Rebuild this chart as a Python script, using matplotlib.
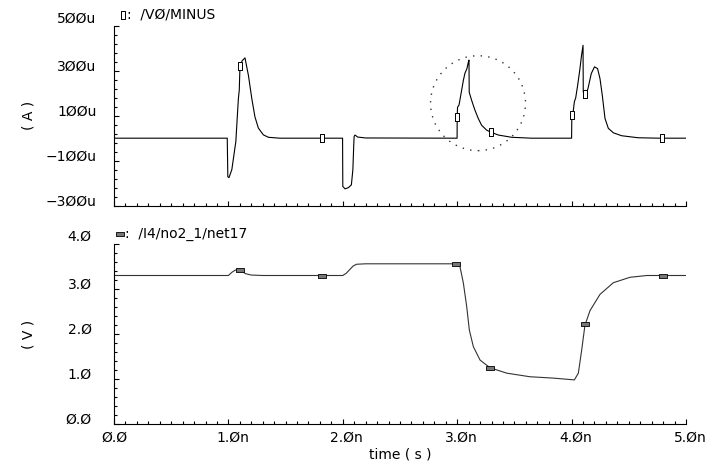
import numpy as np
import matplotlib
matplotlib.use("Agg")
import matplotlib.pyplot as plt
from matplotlib.ticker import FixedLocator, MultipleLocator
from matplotlib.patches import Ellipse
from matplotlib.transforms import ScaledTranslation

# ---------------- data ----------------
# top trace: current /V0/MINUS (uA) vs time (ns)
t_top = [0.0, 0.99, 0.995, 1.005, 1.03, 1.065, 1.087, 1.095, 1.101, 1.12, 1.145, 1.175, 1.205,
         1.232, 1.262, 1.305, 1.35, 1.45,
         1.998, 2.0, 2.02, 2.05, 2.075, 2.088, 2.095, 2.099, 2.107, 2.13, 2.2,
         2.999, 3.0, 3.003, 3.016, 3.039, 3.054, 3.068, 3.085, 3.097, 3.103, 3.105, 3.126,
         3.155, 3.184, 3.213, 3.257, 3.293, 3.36, 3.476, 3.65,
         4.0, 4.002, 4.012, 4.024, 4.036, 4.053, 4.073, 4.087, 4.100, 4.102, 4.114, 4.125,
         4.143, 4.172, 4.2, 4.227, 4.248, 4.268, 4.292, 4.321, 4.365, 4.437, 4.58, 4.76, 5.0]
i_top = [0, 0, -172, -176, -140, -15, 175, 214, 318, 345, 358, 280, 175,
         95, 45, 15, 4, 0,
         0, -215, -226, -220, -208, -140, -40, 8, 14, 5, 1,
         0, 95, 138, 148, 214, 258, 290, 310, 338, 348, 205, 169,
         125, 88, 58, 36, 27, 14, 4, 0,
         0, 103, 110, 162, 180, 236, 310, 370, 414, 206, 192, 195,
         221, 288, 318, 310, 266, 192, 88, 44, 24, 11, 2, 0, 0]

# bottom trace: voltage /I4/no2_1/net17 (V) vs time (ns)
t_bot = [0.0, 1.0, 1.03, 1.06, 1.09, 1.12, 1.15, 1.2, 1.3,
         2.0, 2.03, 2.06, 2.09, 2.12, 2.2,
         2.99, 3.024, 3.054, 3.083, 3.106, 3.141, 3.2, 3.287, 3.433, 3.636, 3.84, 4.024,
         4.059, 4.088, 4.117, 4.161, 4.248, 4.365, 4.51, 4.657, 5.0]
v_bot = [3.30, 3.30, 3.37, 3.42, 3.43, 3.39, 3.34, 3.31, 3.30,
         3.30, 3.35, 3.43, 3.51, 3.55, 3.56,
         3.56, 3.50, 3.13, 2.61, 2.09, 1.72, 1.42, 1.25, 1.13, 1.05, 1.02, 0.98,
         1.13, 1.64, 2.20, 2.52, 2.88, 3.14, 3.26, 3.30, 3.30]

# waveform markers
mk_top_t = [1.10, 1.815, 3.0, 3.293, 4.005, 4.12, 4.79]
mk_top_i = [322, 0, 95, 27, 103, 195, 0]
mk_bot_t = [1.10, 1.815, 2.99, 3.29, 4.12, 4.80]
mk_bot_v = [3.42, 3.30, 3.56, 1.25, 2.22, 3.30]

# ticks / labels
x_ticks = [0, 1, 2, 3, 4, 5]
x_labels = ['Ø.Ø', '1.Øn', '2.Øn', '3.Øn', '4.Øn', '5.Øn']
top_yticks = [-300, -100, 100, 300, 500]
top_ylabels = ['−3ØØu', '−1ØØu', '1ØØu', '3ØØu', '5ØØu']
bot_yticks = [0, 1, 2, 3, 4]
bot_ylabels = ['Ø.Ø', '1.Ø', '2.Ø', '3.Ø', '4.Ø']
top_title = '/VØ/MINUS'
bot_title = '/I4/no2_1/net17'

# ---------------- figure ----------------
plt.rcParams['font.family'] = ['DejaVu Sans']
FS = 10
W, H = 711, 466
fig = plt.figure(figsize=(W / 100, H / 100), dpi=100)
ax1 = fig.add_axes([114 / W, 1 - 205.5 / H, 572 / W, 179.5 / H])
ax2 = fig.add_axes([114 / W, 1 - 424 / H, 572 / W, 180 / H])

for ax in (ax1, ax2):
    for s in ('top', 'right'):
        ax.spines[s].set_visible(False)
    for s in ('left', 'bottom'):
        ax.spines[s].set_linewidth(0.8)
    ax.set_xlim(0, 5)
    ax.xaxis.set_major_locator(FixedLocator(x_ticks))
    ax.xaxis.set_minor_locator(MultipleLocator(0.1))
    ax.tick_params(which='both', direction='in', top=False, right=False, width=0.8,
                   labelsize=FS)
    ax.tick_params(which='major', length=3.8)
    ax.tick_params(which='minor', length=2.0)

# top axes
ax1.plot(t_top, i_top, color='black', lw=0.8)
ax1.plot(mk_top_t, mk_top_i, ls='none',
         marker=[(-0.5, -1), (0.5, -1), (0.5, 1), (-0.5, 1), (-0.5, -1)],
         ms=6, mfc='white', mec='black', mew=0.7)
ax1.set_ylim(-300, 500)
ax1.yaxis.set_major_locator(FixedLocator(top_yticks))
ax1.yaxis.set_minor_locator(FixedLocator(np.arange(-300, 501, 40)))
ax1.set_yticklabels(top_ylabels)
ax1.tick_params(axis='x', labelbottom=False)
ax1.tick_params(axis='y', pad=12.5)
ax1.add_patch(Ellipse((3.182, 156), 0.83, 423, fill=False, ls=(0, (1, 4.5)),
                      lw=1.0, ec='#333333'))
ax1.set_ylabel('( A )', fontsize=FS)
ax1.yaxis.set_label_coords((35 - 114) / 572, 0.5)

# bottom axes
ax2.plot(t_bot, v_bot, color='#333333', lw=0.8)
ax2.plot(mk_bot_t, mk_bot_v, ls='none',
         marker=[(-1, -0.45), (1, -0.45), (1, 0.45), (-1, 0.45), (-1, -0.45)],
         ms=6, mfc='#777777', mec='black', mew=0.6)
ax2.set_ylim(0, 4)
ax2.yaxis.set_major_locator(FixedLocator(bot_yticks))
ax2.yaxis.set_minor_locator(MultipleLocator(0.2))
ax2.set_yticklabels(bot_ylabels)
ax2.set_xticklabels(x_labels)
ax2.tick_params(axis='y', pad=16)
ax2.tick_params(axis='x', pad=5)
ax2.set_ylabel('( V )', fontsize=FS)
ax2.yaxis.set_label_coords((35 - 114) / 572, 0.5)
ax2.set_xlabel('time ( s )', fontsize=FS)
ax2.xaxis.set_label_coords(0.5, (424 - 447) / 180)

# tick label vertical placement (label sits just above its tick)
for ax in (ax1, ax2):
    lbls = ax.get_yticklabels()
    for k, lbl in enumerate(lbls):
        lbl.set_va('bottom' if k == len(lbls) - 1 else 'baseline')
shift = ScaledTranslation(4 / 100, 0, fig.dpi_scale_trans)
for lbl in ax2.get_xticklabels():
    if lbl.get_text().endswith('n'):
        lbl.set_transform(lbl.get_transform() + shift)

# trace titles
ax1.plot([(123 - 114) / 572], [(205.5 - 15) / 179.5], transform=ax1.transAxes, clip_on=False,
         ls='none', marker=[(-0.5, -1), (0.5, -1), (0.5, 1), (-0.5, 1), (-0.5, -1)],
         ms=6, mfc='white', mec='black', mew=0.7)
fig.text(127 / W, 1 - 15 / H, ':  ' + top_title, fontsize=FS, va='center', ha='left')
ax2.plot([(120 - 114) / 572], [(424 - 234) / 180], transform=ax2.transAxes, clip_on=False,
         ls='none', marker=[(-1, -0.45), (1, -0.45), (1, 0.45), (-1, 0.45), (-1, -0.45)],
         ms=6, mfc='#777777', mec='black', mew=0.6)
fig.text(125 / W, 1 - 234 / H, ':  ' + bot_title, fontsize=FS, va='center', ha='left')

fig.savefig('out.png', dpi=100)
